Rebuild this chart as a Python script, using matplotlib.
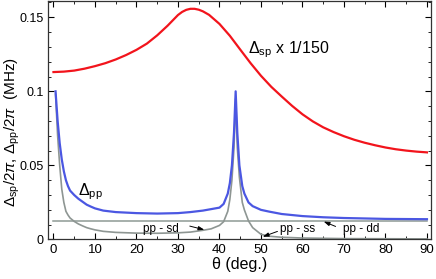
import matplotlib
matplotlib.use('Agg')
import matplotlib.pyplot as plt
from matplotlib.ticker import MultipleLocator

plt.rcParams['font.family'] = ['Liberation Sans', 'DejaVu Sans']
plt.rcParams['mathtext.fontset'] = 'custom'
plt.rcParams['mathtext.rm'] = 'Liberation Sans'
plt.rcParams['mathtext.it'] = 'Liberation Sans:italic'

# Delta_sp / 150 (red)
theta_sp = [0, 2.5, 5, 7.5, 10, 12.5, 15, 17.5, 20, 22.5, 25, 27.5, 30, 31,
            32, 33, 34, 35, 36, 37.5, 40, 42.5, 45, 47.5, 50, 52.5, 55, 57.5,
            60, 62.5, 65, 67.5, 70, 72.5, 75, 77.5, 80, 82.5, 85, 87.5, 90]
delta_sp = [0.1130, 0.1133, 0.1140, 0.1153, 0.1170, 0.1190, 0.1215, 0.1245,
            0.1280, 0.1322, 0.1378, 0.1443, 0.1515, 0.1536, 0.1550, 0.1557,
            0.1557, 0.1551, 0.1540, 0.1516, 0.1455, 0.1375, 0.1282, 0.1190,
            0.1105, 0.1030, 0.0965, 0.0902, 0.0845, 0.0797, 0.0757, 0.0725,
            0.0697, 0.0673, 0.0653, 0.0636, 0.0621, 0.0609, 0.0600, 0.0593,
            0.0588]

# Delta_pp (blue) and pp-sd / pp-ss (grey), same theta grid
theta_pp = [0.5, 1, 1.5, 2, 2.5, 3, 3.5, 4, 5, 6, 7, 8, 9, 10, 12, 15, 20,
            25, 30, 33, 36, 38, 40, 41, 42, 42.5, 43, 43.5, 43.9, 44.3, 44.8,
            45.5, 46, 47, 48, 50, 52, 55, 60, 65, 70, 80, 90]
delta_pp = [0.100, 0.080, 0.065, 0.054, 0.046, 0.040, 0.036, 0.033, 0.030,
            0.0275, 0.0255, 0.0235, 0.0222, 0.021, 0.0195, 0.0185, 0.0178,
            0.0175, 0.0178, 0.0185, 0.0195, 0.0205, 0.0215, 0.024, 0.031,
            0.038, 0.050, 0.072, 0.100, 0.072, 0.050, 0.036, 0.031, 0.025,
            0.0225, 0.0200, 0.0188, 0.0172, 0.0158, 0.0150, 0.0145, 0.0139,
            0.0137]
pp_sd_ss = [0.098, 0.070, 0.050, 0.034, 0.025, 0.019, 0.0165, 0.0145,
            0.0122, 0.0105, 0.0092, 0.0080, 0.0072, 0.0065, 0.0055, 0.0048,
            0.0043, 0.0042, 0.0045, 0.0050, 0.0062, 0.0072, 0.0095, 0.0120,
            0.0190, 0.0270, 0.040, 0.062, 0.095, 0.062, 0.042, 0.025, 0.020,
            0.0125, 0.0080, 0.0035, 0.0022, 0.0015, 0.0010, 0.0008, 0.0006,
            0.0005, 0.0004]

# pp-dd (flat grey line)
theta_dd = [0, 90]
pp_dd = [0.0128, 0.0128]

fig = plt.figure(figsize=(4.36, 2.79), dpi=100)
ax = fig.add_axes([0.110, 0.1416, 0.8784, 0.855])

ax.plot(theta_dd, pp_dd, color='#8e9a95', lw=1.1)
ax.plot(theta_pp, pp_sd_ss, color='#8e9693', lw=1.2)
ax.plot(theta_pp, delta_pp, color='#4b57e2', lw=1.6)
ax.plot(theta_sp, delta_sp, color='#f2141c', lw=1.6)

ax.set_xlim(-1.33, 90.96)
ax.set_ylim(0, 0.161)

ax.xaxis.set_major_locator(MultipleLocator(10))
ax.xaxis.set_minor_locator(MultipleLocator(5))
ax.set_yticks([0, 0.05, 0.1, 0.15])
ax.set_yticklabels(['0', '0.05', '0.1', '0.15'])
ax.yaxis.set_minor_locator(MultipleLocator(0.01))
ax.tick_params(which='both', direction='in', top=True, right=True)
ax.tick_params(which='major', length=4, width=0.8)
ax.tick_params(which='minor', length=2.5, width=0.6)
ax.tick_params(axis='x', labelsize=9.5, pad=3)
ax.tick_params(axis='y', labelsize=9, pad=3)
for s in ax.spines.values():
    s.set_linewidth(0.9)
    s.set_color('#333333')

ax.set_xlabel('θ (deg.)', fontsize=11.5, labelpad=1)
ax.set_ylabel(r'$\Delta_{\rm sp}/2\pi$, $\Delta_{\rm pp}/2\pi$  (MHz)',
              fontsize=11)
ax.yaxis.set_label_coords(-0.068, 0.45)

ax.text(46.9, 0.1255, r'$\Delta_{\rm sp}$ x 1/150', fontsize=11.5)
ax.text(5.9, 0.0297, r'$\Delta_{\rm pp}$', fontsize=11.5)

ax.text(21.6, 0.0049, 'pp - sd', fontsize=8.5)
ax.text(54.6, 0.0049, 'pp - ss', fontsize=8.5)
ax.text(69.8, 0.0049, 'pp - dd', fontsize=8.5)

arrow = dict(arrowstyle='-|>,head_length=0.35,head_width=0.12', color='black', lw=0.7)
ax.annotate('', xy=(37.0, 0.0061), xytext=(32.2, 0.0095), arrowprops=arrow)
ax.annotate('', xy=(49.8, 0.0012), xytext=(54.6, 0.0061), arrowprops=arrow)
ax.annotate('', xy=(64.5, 0.0128), xytext=(68.6, 0.0081), arrowprops=arrow)

fig.savefig('out.png', dpi=100)
